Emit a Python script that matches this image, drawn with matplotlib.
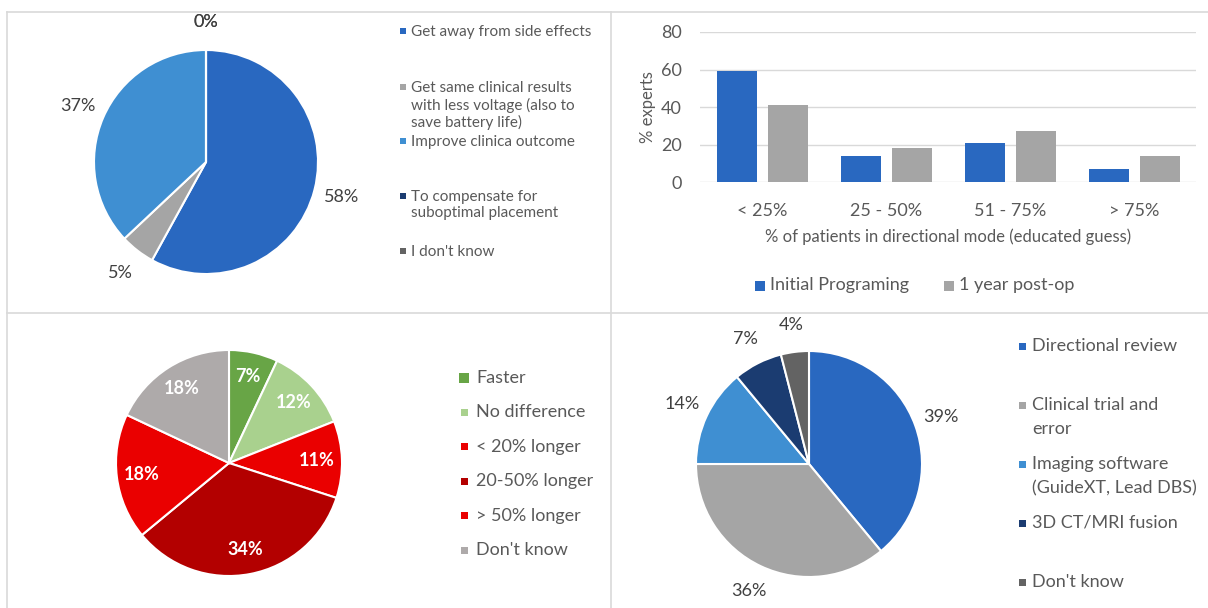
import matplotlib.pyplot as plt
from matplotlib.patches import Rectangle
from matplotlib.lines import Line2D

plt.rcParams['font.family'] = ['Lato', 'DejaVu Sans']

# reasons for directional programming
reason_labels = ['Get away from side effects',
                 'Get same clinical results\nwith less voltage (also to\nsave battery life)',
                 'Improve clinica outcome',
                 'To compensate for\nsuboptimal placement',
                 "I don't know"]
reason_vals = [58, 5, 37, 0, 0]
reason_cols = ['#2968C0', '#A5A5A5', '#3F8FD2', '#1B3C71', '#636363']

# share of patients in directional mode
mode_cats = ['< 25%', '25 - 50%', '51 - 75%', '> 75%']
initial_prog = [59, 14, 21, 7]
one_year = [41, 18, 27, 14]

# programming time
time_labels = ['Faster', 'No difference', '< 20% longer', '20-50% longer', '> 50% longer', "Don't know"]
time_vals = [7, 12, 11, 34, 18, 18]
time_cols = ['#68A546', '#A9D18E', '#EA0000', '#B30000', '#EA0000', '#AEAAAA']

# method to choose direction
method_labels = ['Directional review', 'Clinical trial and\nerror',
                 'Imaging software\n(GuideXT, Lead DBS)', '3D CT/MRI fusion', "Don't know"]
method_vals = [39, 36, 14, 7, 4]
method_cols = ['#2968C0', '#A5A5A5', '#3F8FD2', '#1B3C71', '#636363']

W, H = 1208, 608
fig = plt.figure(figsize=(W / 100, H / 100), dpi=100)
TXT = '#595959'


def fx(x):
    return x / W


def fy(y):
    return 1 - y / H


def pie_axes(cx, cy, size=330):
    ax = fig.add_axes([fx(cx - size / 2), fy(cy + size / 2), size / W, size / H])
    ax.axis('off')
    return ax


def fix_pie(ax, r, size=330):
    # pie() resets the limits, so set them afterwards to get r pixels per unit radius
    lim = size / 2 / r
    ax.set_xlim(-lim, lim)
    ax.set_ylim(-lim, lim)
    ax.set_aspect('equal')


def square(x, y, size, color):
    fig.add_artist(Rectangle((fx(x - size / 2), fy(y + size / 2)), size / W, size / H,
                             transform=fig.transFigure, color=color, lw=0))


# panel borders
for xs, ys in [([7, 1208], [12, 12]), ([7, 7], [12, 608]), ([611, 611], [12, 608]),
               ([7, 1208], [313, 313])]:
    fig.add_artist(Line2D([fx(v) for v in xs], [fy(v) for v in ys],
                          transform=fig.transFigure, color='#D9D9D9', lw=1.2))

# top left pie
ax1 = pie_axes(206, 162)
ax1.pie(reason_vals, colors=reason_cols, startangle=90, counterclock=False,
        autopct=lambda p: f'{p:.0f}%', pctdistance=1.25,
        wedgeprops=dict(edgecolor='white', linewidth=1.5),
        textprops=dict(fontsize=13, color='#404040'))
fix_pie(ax1, 112)
for y, t, c in zip([31, 87, 141, 196, 251], reason_labels, reason_cols):
    square(403, y, 6, c)
    fig.text(fx(411), fy(y - 6), t, fontsize=11, color=TXT, va='top', linespacing=1.22)

# top right bar chart
ax2 = fig.add_axes([fx(700), fy(182), (1196 - 700) / W, 150 / H])
x = range(len(mode_cats))
off = 25.5 / 124
bw = 40 / 124
ax2.bar([i - off for i in x], initial_prog, bw, color='#2968C0', zorder=3)
ax2.bar([i + off for i in x], one_year, bw, color='#A5A5A5', zorder=3)
ax2.set_xlim(-0.5, 3.5)
ax2.set_ylim(0, 80)
ax2.set_yticks([0, 20, 40, 60, 80])
ax2.set_xticks(list(x))
ax2.set_xticklabels(mode_cats)
ax2.grid(axis='y', color='#D9D9D9', lw=1, zorder=0)
for s in ax2.spines.values():
    s.set_visible(False)
ax2.tick_params(length=0, labelsize=13, labelcolor=TXT)
ax2.tick_params(axis='y', pad=13)
ax2.tick_params(axis='x', pad=15)
ax2.set_ylabel('% experts', fontsize=12, color=TXT, labelpad=4)
ax2.set_xlabel('% of patients in directional mode (educated guess)', fontsize=12,
               color=TXT, labelpad=7)
for x0, col, lab in [(760, '#2968C0', 'Initial Programing'), (949, '#A5A5A5', '1 year post-op')]:
    square(x0, 286, 10, col)
    fig.text(fx(x0 + 10), fy(285), lab, fontsize=13, color=TXT, va='center')

# bottom left pie
ax3 = pie_axes(229, 463)
ax3.pie(time_vals, colors=time_cols, startangle=90, counterclock=False,
        autopct=lambda p: f'{p:.0f}%', pctdistance=0.78,
        wedgeprops=dict(edgecolor='white', linewidth=1.5),
        textprops=dict(fontsize=13, color='white', fontweight='bold'))
fix_pie(ax3, 113)
for i, (t, c) in enumerate(zip(time_labels, time_cols)):
    y = 378 + i * 34.4
    square(464, y, 10 if i == 0 else 7, c)
    fig.text(fx(476), fy(y), t, fontsize=13, color=TXT, va='center')

# bottom right pie
ax4 = pie_axes(809, 464)
ax4.pie(method_vals, colors=method_cols, startangle=90, counterclock=False,
        autopct=lambda p: f'{p:.0f}%', pctdistance=1.24,
        wedgeprops=dict(edgecolor='white', linewidth=1.5),
        textprops=dict(fontsize=13, color='#404040'))
fix_pie(ax4, 113)
for y, t, c in zip([346, 405, 464, 523, 582], method_labels, method_cols):
    square(1022, y, 7, c)
    fig.text(fx(1032), fy(y - 8), t, fontsize=13, color=TXT, va='top', linespacing=1.65)

fig.savefig('out.png', dpi=100, facecolor='white')
